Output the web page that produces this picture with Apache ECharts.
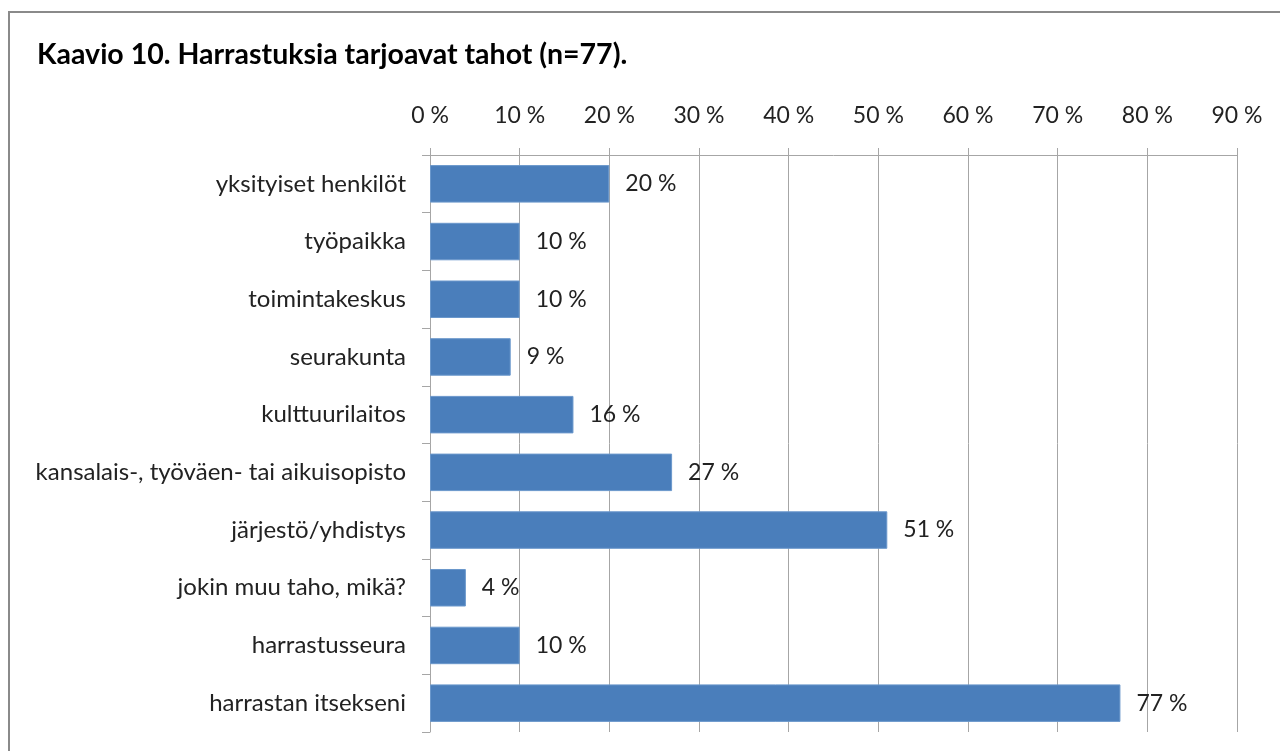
<!DOCTYPE html>
<html style="height: 100%">
<head>
    <meta charset="UTF-8">
    <title>Kaavio 10</title>
    <script src="https://cdn.jsdelivr.net/npm/echarts/dist/echarts.min.js"></script>
    <style>
        #main {
            height: 100%;
        }
    </style>
</head>
<body style="height: 100%; margin: 0; background: #fff">
    <div id="main"></div>
    <script type="text/javascript">
        var categories = [
            'yksityiset henkilöt',
            'työpaikka',
            'toimintakeskus',
            'seurakunta',
            'kulttuurilaitos',
            'kansalais-, työväen- tai aikuisopisto',
            'järjestö/yhdistys',
            'jokin muu taho, mikä?',
            'harrastusseura',
            'harrastan itsekseni'
        ];
        var values = [20, 10, 10, 9, 16, 27, 51, 4, 10, 77];

        var chartDom = document.getElementById('main');
        var myChart = echarts.init(chartDom);
        var font = 'Lato, "Open Sans", sans-serif';
        var option;

        option = {
            animation: false,
            title: {
                text: 'Kaavio 10. Harrastuksia tarjoavat tahot (n=77).',
                left: 32,
                top: 35,
                textStyle: {
                    fontFamily: font,
                    fontSize: 28.5,
                    fontWeight: 'bold',
                    color: '#000'
                }
            },
            graphic: [{
                type: 'rect',
                shape: { x: 9, y: 12, width: 1290, height: 800 },
                style: { fill: 'none', stroke: '#8a8a8a', lineWidth: 2 },
                silent: true
            }],
            grid: {
                left: 430,
                right: 43,
                top: 155,
                bottom: 19
            },
            xAxis: {
                type: 'value',
                position: 'top',
                min: 0,
                max: 90,
                interval: 10,
                axisLine: { show: true, lineStyle: { color: '#a6a6a6' } },
                axisTick: { show: true, length: 7, lineStyle: { color: '#a6a6a6' } },
                splitLine: { show: true, lineStyle: { color: '#a6a6a6' } },
                axisLabel: {
                    formatter: '{value} %',
                    fontFamily: font,
                    fontSize: 23,
                    color: '#222',
                    margin: 28
                }
            },
            yAxis: {
                type: 'category',
                inverse: true,
                data: categories,
                axisLine: { show: true, lineStyle: { color: '#a6a6a6' } },
                axisTick: { show: true, length: 8, lineStyle: { color: '#a6a6a6' } },
                axisLabel: {
                    fontFamily: font,
                    fontSize: 24,
                    color: '#222',
                    margin: 24
                }
            },
            series: [{
                type: 'bar',
                data: values,
                barCategoryGap: '35%',
                itemStyle: {
                    color: '#4a7ebb',
                    borderColor: '#6b98cc',
                    borderWidth: 1
                },
                label: {
                    show: true,
                    position: 'right',
                    distance: 16,
                    formatter: '{c} %',
                    fontFamily: font,
                    fontSize: 23,
                    color: '#222'
                }
            }]
        };

        myChart.setOption(option);
    </script>
</body>
</html>
